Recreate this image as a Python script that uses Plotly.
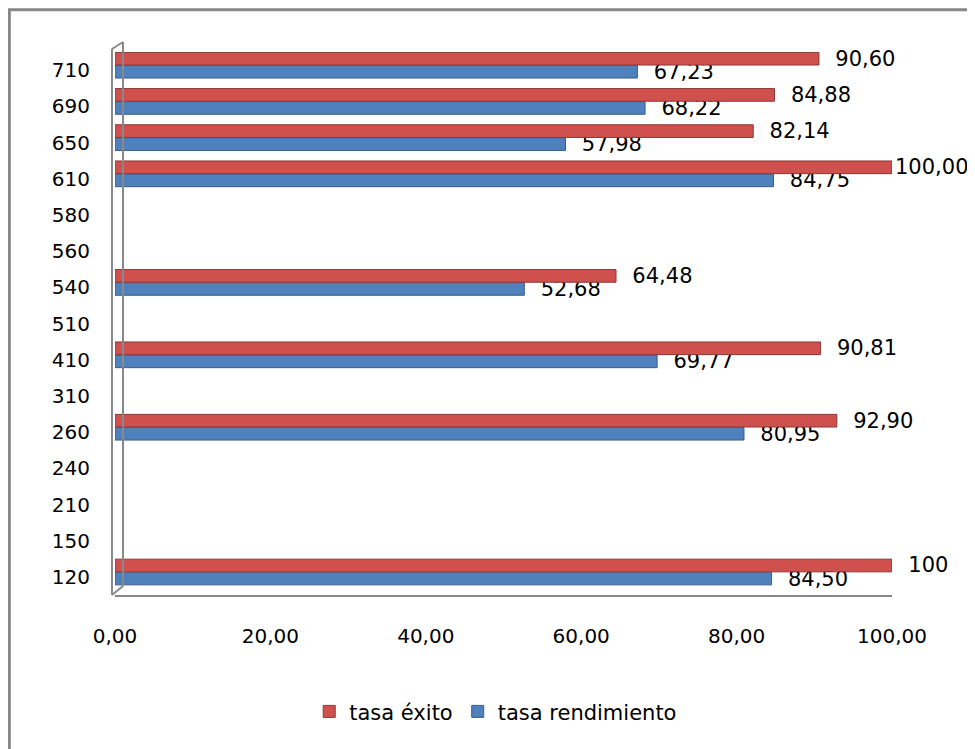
import plotly.graph_objects as go

categories = ["120", "150", "210", "240", "260", "310", "410", "510",
              "540", "560", "580", "610", "650", "690", "710"]
tasa_exito = [100, None, None, None, 92.90, None, 90.81, None,
              64.48, None, None, 100.00, 82.14, 84.88, 90.60]
tasa_rendimiento = [84.50, None, None, None, 80.95, None, 69.77, None,
                    52.68, None, None, 84.75, 57.98, 68.22, 67.23]
exito_labels = ["100", "", "", "", "92,90", "", "90,81", "",
                "64,48", "", "", "100,00", "82,14", "84,88", "90,60"]
rend_labels = ["84,50", "", "", "", "80,95", "", "69,77", "",
               "52,68", "", "", "84,75", "57,98", "68,22", "67,23"]
x_ticks = [0, 20, 40, 60, 80, 100]
x_tick_labels = ["0,00", "20,00", "40,00", "60,00", "80,00", "100,00"]

FONT = "DejaVu Sans"
GRAY = "#888888"
PAD = "\u00a0\u00a0"

# long labels sit right at the bar end, short ones get a small gap
exito_templates = [("%{text}" if len(t) > 5 else PAD + "%{text}") for t in exito_labels]

fig = go.Figure()
fig.add_trace(go.Bar(
    y=categories, x=tasa_rendimiento, orientation="h", name="tasa rendimiento",
    marker=dict(color="#4F81BD", line=dict(color="#385D8A", width=1)),
    offset=-0.22, width=0.35,
    text=rend_labels, texttemplate=PAD + "%{text}", textposition="outside",
    cliponaxis=False, constraintext="none",
    textfont=dict(family=FONT, size=21, color="#000000"),
))
fig.add_trace(go.Bar(
    y=categories, x=tasa_exito, orientation="h", name="tasa éxito",
    marker=dict(color="#D0504D", line=dict(color="#8C3836", width=1)),
    offset=0.14, width=0.35,
    text=exito_labels, texttemplate=exito_templates, textposition="outside",
    cliponaxis=False, constraintext="none",
    textfont=dict(family=FONT, size=21, color="#000000"),
))

def pline(x0, y0, x1, y1):
    return dict(type="line", xref="paper", yref="paper", x0=x0, y0=y0, x1=x1, y1=y1,
                line=dict(color=GRAY, width=2))

fig.update_layout(
    width=975, height=749,
    barmode="overlay",
    paper_bgcolor="white", plot_bgcolor="white",
    margin=dict(l=107, r=91, t=44, b=162),
    font=dict(family=FONT, size=20, color="#000000"),
    showlegend=True,
    legend=dict(orientation="h", x=0.49, xanchor="center", y=-0.215, yanchor="middle",
                traceorder="reversed", font=dict(family=FONT, size=21),
                itemwidth=30),
    xaxis=dict(range=[0, 100], tickvals=x_ticks, ticktext=x_tick_labels,
               showgrid=False, zeroline=False, showline=True, linecolor=GRAY,
               linewidth=2, ticks="", ticklabelstandoff=22,
               tickfont=dict(family=FONT, size=20)),
    yaxis=dict(type="category", categoryorder="array", categoryarray=categories,
               range=[-0.5, 14.5], showgrid=False, zeroline=False, showline=False,
               ticks="", ticklabelstandoff=24,
               tickfont=dict(family=FONT, size=20)),
    shapes=[
        dict(type="rect", xref="paper", yref="paper",
             x0=-0.136, x1=1.5, y0=-0.5, y1=1.078,
             line=dict(color=GRAY, width=3), fillcolor="rgba(0,0,0,0)"),
        pline(-0.0039, 0.0, -0.0039, 1.0055),
        pline(0.0103, 0.0166, 0.0103, 1.0184),
        pline(-0.0039, 1.0055, 0.0103, 1.0184),
        pline(-0.0039, 0.0, 0.0103, 0.0166),
    ],
)

fig.write_html("out.html")
